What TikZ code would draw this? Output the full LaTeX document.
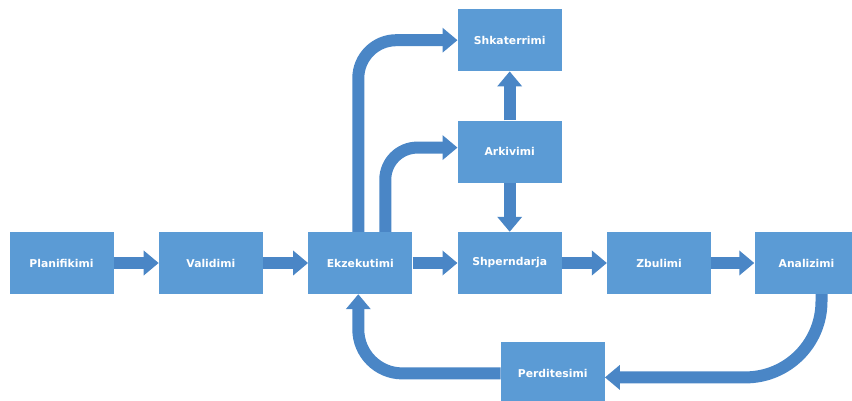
\documentclass[tikz,border=0pt]{standalone}
\usepackage{fontspec}
\setmainfont{DejaVu Sans}
\usetikzlibrary{positioning, arrows.meta}

\definecolor{boxblue}{RGB}{91,155,213}
\definecolor{flowblue}{RGB}{74,134,198}

\tikzset{
    stepbox/.style={rectangle, fill=boxblue, text=white, minimum width=104pt,
        minimum height=62pt, inner sep=0pt,
        font=\fontsize{10.8}{12}\selectfont\bfseries},
    flow/.style={draw=flowblue, line width=12pt,
        -{Triangle[length=15pt, width=24pt]}}
}

\begin{document}
\begin{tikzpicture}
        \useasboundingbox (0,0) rectangle (852pt,-401pt);

        % Main row of steps
        \node[stepbox] (plan) at (61.5pt,-263pt) {Planifikimi};
        \node[stepbox, right=45pt of plan] (val) {Validimi};
        \node[stepbox, right=45pt of val] (ekz) {Ekzekutimi};
        \node[stepbox, right=45pt of ekz] (shp) {Shperndarja};
        \node[stepbox, right=45pt of shp] (zbu) {Zbulimi};
        \node[stepbox, right=43pt of zbu] (ana) {Analizimi};

        % Column above Shperndarja
        \node[stepbox, above=49pt of shp] (ark) {Arkivimi};
        \node[stepbox, above=49pt of ark] (shk) {Shkaterrimi};

        % Feedback step
        \node[stepbox, below=48pt of shp, xshift=43pt] (per) {Perditesimi};

        % Straight arrows
        \draw[flow] (plan) -- (val);
        \draw[flow] (val) -- (ekz);
        \draw[flow] (ekz) -- (shp);
        \draw[flow] (shp) -- (zbu);
        \draw[flow] (zbu) -- (ana);
        \draw[flow] (ark) -- (shk);
        \draw[flow] (ark) -- (shp);

        % Bent arrows
        \draw[flow, rounded corners=38pt] ([xshift=-2pt]ekz.north) |- (shk.west);
        \draw[flow, rounded corners=32pt] ([xshift=25pt]ekz.north) |- ([yshift=4pt]ark.west);
        \draw[flow, rounded corners=76pt] ([xshift=15pt]ana.south) |- ([yshift=-4pt]per.east);
        \draw[flow, rounded corners=44pt] (per.west) -| ([xshift=-2pt]ekz.south);
    \end{tikzpicture}
\end{document}
